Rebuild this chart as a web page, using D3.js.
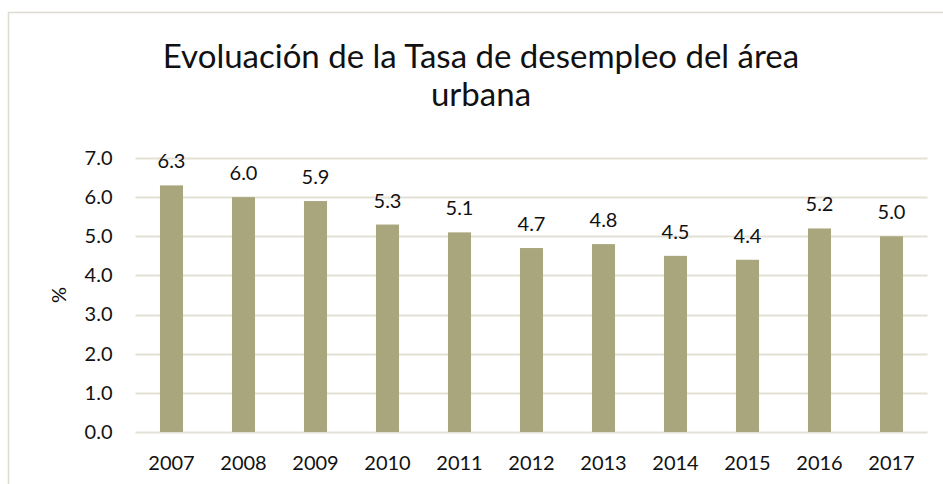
<!DOCTYPE html>
<html>
<head>
<meta charset="utf-8">
<script src="https://cdn.jsdelivr.net/npm/d3@7"></script>
<style>
  body { margin: 0; background: #fff; }
  svg { display: block; font-family: Lato, "Open Sans", sans-serif; }
</style>
</head>
<body>
<svg id="chart"></svg>
<script>
// Datos del gráfico
const years = ['2007', '2008', '2009', '2010', '2011', '2012', '2013', '2014', '2015', '2016', '2017'];
const rates = [6.3, 6.0, 5.9, 5.3, 5.1, 4.7, 4.8, 4.5, 4.4, 5.2, 5.0];
const yTicks = [0, 1, 2, 3, 4, 5, 6, 7];
const titleLines = ['Evoluación de la Tasa de desempleo del área', 'urbana'];

const width = 943;
const height = 484;
const margin = { top: 158, right: 15, bottom: 52, left: 135.5 };

const svg = d3.select('#chart')
    .attr('width', width)
    .attr('height', height);

// Marco del gráfico
svg.append('rect')
    .attr('x', 8.5)
    .attr('y', 12.5)
    .attr('width', 960)
    .attr('height', 500)
    .attr('fill', '#fff')
    .attr('stroke', '#dedbd1')
    .attr('stroke-width', 1.5);

// Título
svg.append('g')
    .selectAll('text')
    .data(titleLines)
    .enter().append('text')
    .attr('x', 481)
    .attr('y', (d, i) => 68 + i * 38)
    .attr('text-anchor', 'middle')
    .attr('font-size', 33)
    .attr('fill', '#111')
    .text(d => d);

const x = d3.scaleBand()
    .domain(years)
    .range([margin.left, 927.5])
    .paddingInner(0.68)
    .paddingOuter(0.34);

const y = d3.scaleLinear()
    .domain([0, 7])
    .range([432, margin.top]);

// Líneas de cuadrícula
svg.append('g')
    .selectAll('line')
    .data(yTicks)
    .enter().append('line')
    .attr('x1', margin.left)
    .attr('x2', 927.5)
    .attr('y1', d => Math.round(y(d)) + 0.5)
    .attr('y2', d => Math.round(y(d)) + 0.5)
    .attr('stroke', '#e3e0d6')
    .attr('stroke-width', 2);

// Eje Y
const yAxis = svg.append('g')
    .attr('transform', `translate(${margin.left},0)`)
    .call(d3.axisLeft(y).tickValues(yTicks).tickFormat(d3.format('.1f')).tickSize(0).tickPadding(23));
yAxis.select('.domain').remove();
yAxis.selectAll('text')
    .attr('font-family', 'Lato, sans-serif')
    .attr('font-size', 20)
    .attr('fill', '#111');

// Eje X
const xAxis = svg.append('g')
    .attr('transform', 'translate(0,432)')
    .call(d3.axisBottom(x).tickSize(0).tickPadding(24));
xAxis.select('.domain').remove();
xAxis.selectAll('text')
    .attr('font-family', 'Lato, sans-serif')
    .attr('font-size', 20)
    .attr('fill', '#111');

// Etiqueta del eje Y
svg.append('text')
    .attr('transform', 'translate(66,295) rotate(-90)')
    .attr('text-anchor', 'middle')
    .attr('font-size', 20)
    .attr('fill', '#111')
    .text('%');

// Barras
svg.append('g')
    .selectAll('rect')
    .data(rates)
    .enter().append('rect')
    .attr('x', (d, i) => x(years[i]))
    .attr('y', d => y(d))
    .attr('width', x.bandwidth())
    .attr('height', d => y(0) - y(d))
    .attr('fill', '#a9a57c');

// Etiquetas de datos
svg.append('g')
    .selectAll('text')
    .data(rates)
    .enter().append('text')
    .attr('x', (d, i) => x(years[i]) + x.bandwidth() / 2)
    .attr('y', d => y(d) - 17)
    .attr('text-anchor', 'middle')
    .attr('font-size', 20)
    .attr('fill', '#111')
    .text(d => d.toFixed(1));
</script>
</body>
</html>
